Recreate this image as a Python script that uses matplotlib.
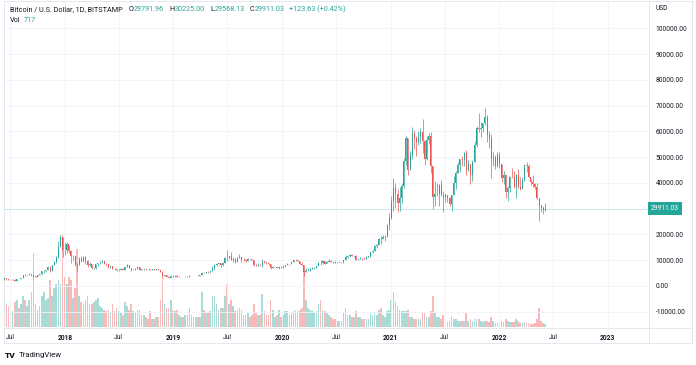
import matplotlib
matplotlib.use("Agg")
import matplotlib.pyplot as plt
import matplotlib.dates as mdates
import matplotlib.transforms as mtrans
from matplotlib.lines import Line2D
from matplotlib.ticker import FuncFormatter
import numpy as np
import pandas as pd

# weekly candles (week ending Sunday), BTC/USD Bitstamp
week_end = pd.date_range("2017-06-11", "2022-06-05", freq="W-SUN")
first_open = 2500

close = [
    # 2017
    2950, 2550, 2480, 2500, 2500, 1930, 2750, 2740, 3230, 4100, 4090, 4350, 4580, 4150, 3690,
    3660, 4380, 4610, 5680, 6010, 6150, 7380, 5880, 8030, 9300, 11250, 15170, 19140, 13900, 13850,
    # 2018
    16200, 13600, 11500, 11700, 8200, 8100, 10400, 9600, 11400, 9550, 8200, 8460, 6800, 7020, 8350,
    8900, 9400, 9650, 8700, 8520, 7350, 7710, 6780, 6450, 6150, 6380, 6750, 6350, 7400, 8200,
    7030, 6290, 6390, 6700, 7250, 6250, 6500, 6700, 6620, 6600, 6300, 6420, 6340, 6480, 6350,
    5580, 4000, 4140, 3600, 3250, 3960, 3870,
    # 2019
    4040, 3510, 3540, 3540, 3410, 3660, 3670, 3830, 3820, 3930, 4000, 3990, 4100, 5150, 5070,
    5300, 5250, 5790, 7000, 8150, 8700, 8740, 7990, 8990, 10850, 10800, 11450, 10200, 10570, 9500,
    11000, 11300, 10200, 10150, 9600, 10400, 10300, 10000, 8050, 7870, 8280, 8220, 9550, 9200, 8800,
    8500, 6900, 7400, 7500, 7070, 7510, 7300,
    # 2020
    7750, 8180, 8700, 8600, 9340, 10160, 9920, 9660, 8530, 8030, 5360, 5820, 5880, 6770, 6910,
    7120, 7690, 8900, 8750, 9670, 8720, 9450, 9670, 9340, 9300, 9120, 9070, 9250, 9170, 9930,
    11070, 11680, 11850, 11660, 11710, 10260, 10330, 10920, 10770, 10670, 11390, 11500, 13030, 13740, 15480,
    15970, 18410, 18180, 19150, 19270, 23830, 26270,
    # 2021
    33000, 38200, 35800, 32260, 34300, 38900, 48600, 57500, 45200, 51000, 59000, 57500, 55800, 57900, 59900,
    56200, 49100, 56600, 58200, 46400, 34700, 35600, 35800, 39100, 35500, 34700, 35300, 34300, 31800, 35400,
    39900, 43800, 47000, 49300, 48800, 51800, 45100, 47300, 43200, 48200, 54700, 61500, 60900, 61300, 63300,
    65500, 58700, 57300, 49400, 50100, 46700, 50800,
    # 2022
    47300, 41800, 43100, 36300, 37900, 42400, 42200, 38400, 43200, 38400, 37800, 41300, 46800, 46400, 42200,
    40400, 39500, 38500, 34100, 31300, 30300, 29500, 29911.03,
]

high = [
    2990, 2980, 2780, 2650, 2640, 2540, 2900, 2890, 3280, 4200, 4480, 4420, 4980, 4700, 4200,
    4000, 4400, 4630, 5850, 6200, 6310, 7600, 7880, 8100, 9740, 11800, 17300, 19670, 19100, 16500,
    17200, 16000, 14100, 12000, 11700, 9000, 11200, 11700, 11500, 11700, 9900, 9200, 8500, 7200, 8500,
    9000, 9750, 9900, 9700, 8900, 8500, 7750, 7780, 6800, 6750, 6530, 6800, 6830, 7590, 8500,
    8290, 7150, 6550, 6900, 7400, 7400, 6600, 6950, 6880, 6700, 6700, 6550, 6490, 6550, 6580,
    6400, 5640, 4400, 4150, 3600, 4230, 4100,
    4110, 4100, 3720, 3680, 3560, 3700, 3720, 4200, 3900, 3960, 4050, 4100, 4150, 5300, 5450,
    5350, 5650, 5850, 7600, 8380, 8800, 9090, 8800, 9370, 11200, 13800, 11700, 13180, 11100, 10700,
    11100, 12300, 11400, 10900, 10500, 10950, 10450, 10380, 10100, 8500, 8800, 8420, 10500, 9550, 9400,
    8900, 8500, 7800, 7630, 7560, 7650, 7600,
    7800, 8250, 8900, 8700, 9600, 10200, 10500, 10200, 9700, 9180, 7980, 6900, 6800, 7000, 7460,
    7300, 7750, 9500, 10000, 9900, 9850, 9750, 10400, 9950, 9600, 9700, 9200, 9450, 9280, 10000,
    12100, 11800, 12450, 12400, 11800, 12100, 10550, 11100, 10850, 11000, 11450, 11700, 13350, 14000, 15950,
    16450, 18800, 19500, 19900, 19400, 24200, 28400,
    34800, 41900, 40100, 37800, 38500, 40000, 49700, 58300, 57500, 52500, 61800, 60600, 58400, 60200, 61300,
    64900, 56600, 58400, 59500, 59600, 46600, 40900, 39900, 39400, 41300, 36700, 36000, 35100, 34700, 35400,
    42600, 44800, 48100, 49400, 50500, 51900, 52900, 48800, 45300, 49000, 56300, 62000, 67000, 63700, 63300,
    69000, 66300, 60000, 59100, 51900, 50800, 51900,
    52000, 47500, 44500, 43500, 38900, 42600, 45800, 44800, 43400, 45400, 42500, 42400, 47000, 48200, 47400,
    41500, 42900, 40000, 39900, 34200, 31400, 30900, 32400,
]

low = [
    2480, 2300, 2280, 2380, 2400, 1830, 1900, 2590, 2660, 3200, 3900, 3950, 4330, 3960, 2980,
    3560, 3880, 4250, 4620, 5130, 5450, 6130, 5500, 5860, 8020, 9000, 11000, 15100, 11100, 12000,
    12800, 12800, 9100, 9900, 7900, 6000, 8000, 9300, 9400, 8500, 7300, 7700, 6500, 6450, 6600,
    7800, 8600, 8900, 8400, 7950, 7120, 7050, 6640, 6100, 5800, 5780, 6260, 6070, 6300, 7350,
    6900, 5880, 6100, 6300, 6700, 6100, 6150, 6280, 6300, 6480, 6120, 6340, 6330, 6230, 6290,
    5280, 3650, 3700, 3400, 3150, 3250, 3560,
    3680, 3500, 3480, 3480, 3350, 3380, 3580, 3650, 3750, 3800, 3860, 3930, 3980, 4090, 4930,
    4940, 5040, 5160, 5710, 6380, 7600, 8500, 7450, 7600, 8900, 9800, 10400, 9950, 9200, 9100,
    9400, 10900, 9500, 9800, 9400, 9600, 9900, 9900, 7800, 7800, 7850, 7900, 7350, 8950, 8700,
    8300, 6530, 6900, 7250, 6870, 6440, 7150,
    6850, 7450, 8100, 8250, 8600, 9130, 9680, 9600, 8450, 8000, 3850, 5250, 5700, 5900, 6750,
    6600, 6800, 7600, 8100, 8500, 8700, 8800, 9350, 9150, 9100, 8900, 8980, 9150, 9050, 9100,
    9900, 11000, 11200, 11500, 11250, 9900, 9900, 10300, 10150, 10400, 10550, 11220, 11400, 12900, 13500,
    14700, 15950, 16200, 18200, 17600, 19000, 21800,
    26000, 29000, 30300, 28900, 29300, 32300, 37900, 47100, 43000, 44900, 49300, 53300, 50400, 54700, 55500,
    51500, 47000, 48800, 55000, 43800, 30000, 31100, 34800, 31000, 34800, 28800, 32700, 32700, 31100, 29300,
    35200, 37600, 43700, 44400, 46400, 46500, 43000, 44600, 39600, 40800, 48000, 54100, 59700, 58000, 59600,
    62300, 55700, 53500, 42000, 46700, 45600, 46000,
    45800, 40500, 39700, 34000, 32900, 36300, 41800, 38000, 34300, 37900, 37400, 38200, 40900, 44300, 41900,
    39200, 38300, 37600, 33700, 25400, 28700, 28000, 29300,
]

# volume, thousand BTC per day (typical level of the week)
volume = [
    14, 12, 11, 8, 8, 13, 14, 10, 12, 16, 14, 11, 14, 18, 38,
    12, 9, 11, 16, 18, 14, 15, 24, 16, 20, 22, 24, 22, 48, 26,
    22, 26, 24, 15, 20, 40, 16, 13, 12, 14, 16, 12, 12, 13, 14,
    15, 11, 10, 9, 8, 9, 7, 12, 8, 10, 8, 7, 6, 13, 11,
    9, 12, 8, 7, 9, 9, 6, 6, 5, 4, 8, 4, 4, 5, 5,
    14, 26, 12, 10, 10, 14, 9,
    8, 9, 6, 5, 5, 6, 6, 10, 6, 5, 5, 5, 5, 18, 9,
    7, 7, 8, 16, 16, 12, 9, 10, 10, 16, 22, 12, 14, 11, 8,
    9, 10, 9, 6, 6, 7, 5, 6, 12, 7, 6, 6, 17, 8, 6,
    6, 14, 9, 5, 6, 9, 5,
    6, 8, 8, 6, 7, 8, 9, 8, 9, 10, 30, 14, 10, 9, 8,
    7, 8, 12, 14, 9, 8, 7, 6, 5, 4, 4, 3, 3, 3, 7,
    10, 6, 6, 5, 5, 8, 5, 5, 4, 4, 4, 4, 7, 6, 7,
    6, 9, 10, 6, 5, 8, 9,
    14, 18, 13, 11, 9, 8, 8, 8, 9, 5, 5, 4, 4, 4, 4,
    7, 7, 5, 5, 8, 16, 7, 5, 5, 4, 6, 3, 2.5, 3, 5,
    4, 4, 3, 3, 3, 3, 7, 3, 4, 3, 4, 4, 4, 3, 2.5,
    3, 3, 2.5, 5, 3, 2, 2,
    2, 3, 2.5, 4, 3, 2.5, 2.5, 2.5, 4, 3, 2, 2, 2.5, 2, 2,
    1.5, 1.5, 2, 4, 10, 3, 2, 1.5,
]

tick_dates = ["2017-07-01", "2018-01-01", "2018-07-01", "2019-01-01", "2019-07-01", "2020-01-01",
              "2020-07-01", "2021-01-01", "2021-07-01", "2022-01-01", "2022-07-01", "2023-01-01"]
tick_labels = ["Jul", "2018", "Jul", "2019", "Jul", "2020", "Jul", "2021", "Jul", "2022", "Jul", "2023"]

UP = "#26a69a"
DOWN = "#ef5350"
TXT = "#131722"
GRID = "#f0f3fa"
FRAME = "#e0e3eb"
FONT = "Roboto"

W, H = 696, 365
fig = plt.figure(figsize=(W / 100, H / 100), dpi=100)
fig.patch.set_facecolor("white")

def fx(px):
    return px / W

def fy(py):
    return 1 - py / H

ax = fig.add_axes([fx(4), fy(327), fx(649) - fx(4), fy(1) - fy(327)])
axv = ax.twinx()
ax.set_zorder(2)
axv.set_zorder(1)
ax.patch.set_visible(False)

x = mdates.date2num(week_end.to_pydatetime())
c = np.array(close, dtype=float)
o = np.array([first_open] + close[:-1], dtype=float)
hi = np.array(high, dtype=float)
lo = np.array(low, dtype=float)
is_up = c >= o
cols = np.where(is_up, UP, DOWN)

# volume underneath
axv.bar(x, volume, width=5.5, color=cols, alpha=0.4, linewidth=0)
axv.set_ylim(0, 168)
axv.set_yticks([])
for s in axv.spines.values():
    s.set_visible(False)

# candles
ax.vlines(x, lo, hi, colors=cols, linewidth=0.5)
ax.bar(x, np.abs(c - o), bottom=np.minimum(o, c), width=3.4, color=cols, linewidth=0)

ax.set_xlim(mdates.datestr2num("2017-06-10"), mdates.datestr2num("2023-05-20"))
ax.set_ylim(-15914, 110620)

# price scale on the right
ax.yaxis.tick_right()
ax.set_yticks(np.arange(-10000, 100001, 10000))
ax.yaxis.set_major_formatter(FuncFormatter(lambda v, p: "" if abs(v - 30000) < 1 else f"{v:.2f}"))
ax.tick_params(axis="y", length=0, pad=5, labelsize=4.8, labelcolor=TXT)
for lbl in ax.get_yticklabels():
    lbl.set_fontfamily(FONT)

ax.set_xticks(mdates.datestr2num(tick_dates))
ax.set_xticklabels(tick_labels)
ax.tick_params(axis="x", length=0, pad=5, labelsize=4.8, labelcolor=TXT)
for lbl in ax.get_xticklabels():
    lbl.set_fontfamily(FONT)
    if lbl.get_text() != "Jul":
        lbl.set_fontweight("bold")

ax.grid(True, color=GRID, linewidth=0.6)
ax.set_axisbelow(True)
for s in ax.spines.values():
    s.set_visible(False)

# last price line and tag
last = close[-1]
ax.axhline(last, color=UP, linewidth=0.5, linestyle=(0, (1.5, 2)), alpha=0.5)
tr = mtrans.blended_transform_factory(fig.transFigure, ax.transData)
ax.text(fx(651), last, f"{last:.2f}", transform=tr, ha="left", va="center", color="white",
        fontsize=4.8, family=FONT, clip_on=False,
        bbox=dict(boxstyle="square,pad=0.45", fc=UP, ec="none"))

# frame lines
for (x0, y0, x1, y1) in [(4, 1, 692, 1), (4, 1, 4, 343), (692, 1, 692, 343), (649, 1, 649, 343),
                         (4, 327.5, 692, 327.5), (4, 343, 692, 343)]:
    fig.add_artist(Line2D([fx(x0), fx(x1)], [fy(y0), fy(y1)], color=FRAME, linewidth=0.6))

fig.text(fx(655), fy(8.5), "USD", fontsize=4.8, family=FONT, color=TXT, va="center")

# header legend
renderer = fig.canvas.get_renderer()

def write_row(pieces, x0, y0):
    xpos = x0
    for txt, col, gap in pieces:
        t = fig.text(fx(xpos), fy(y0), txt, fontsize=5.2, family=FONT, color=col, va="center")
        ext = t.get_window_extent(renderer)
        xpos = ext.x1 + gap

write_row([("Bitcoin / U.S. Dollar, 1D, BITSTAMP", TXT, 6),
           ("O", TXT, 0.5), ("29791.96", UP, 5),
           ("H", TXT, 0.5), ("30225.00", UP, 5),
           ("L", TXT, 0.5), ("29568.13", UP, 5),
           ("C", TXT, 0.5), ("29911.03", UP, 4),
           ("+123.63 (+0.42%)", UP, 0)], 10, 9.5)
write_row([("Vol", TXT, 3), ("717", UP, 0)], 10, 20)

# logo
fig.text(fx(5), fy(355), "TV", fontsize=6, family=FONT, fontweight="black", color=TXT, va="center")
fig.text(fx(19), fy(355), "TradingView", fontsize=5.6, family=FONT, color=TXT, va="center")

fig.savefig("out.png", dpi=100)
